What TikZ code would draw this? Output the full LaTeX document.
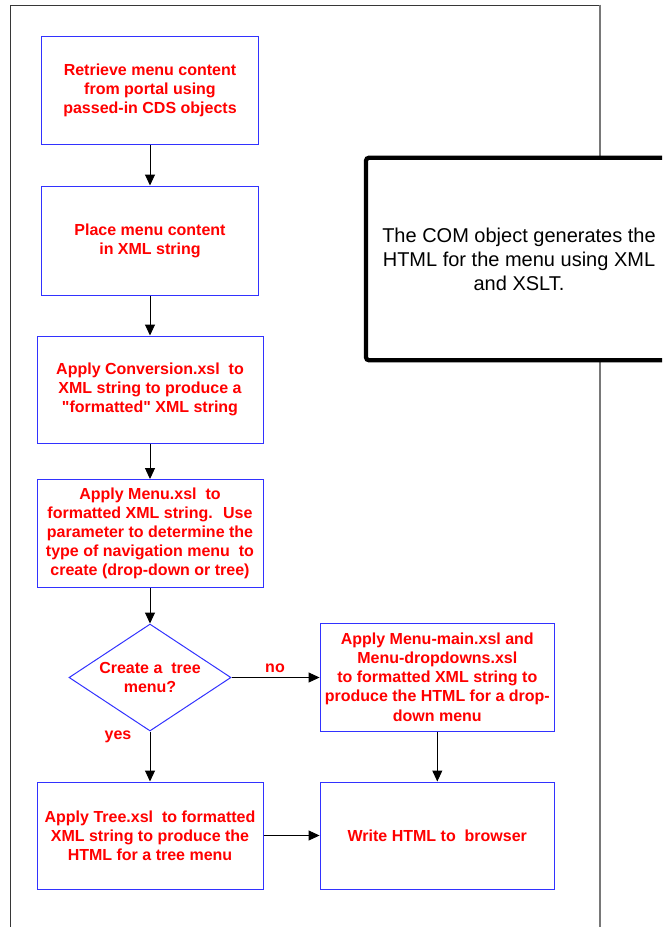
\documentclass[tikz,border=0pt]{standalone}
\usepackage{fontspec}
\setmainfont{Liberation Sans}[Ligatures=TeXOff]
\usetikzlibrary{arrows.meta,shapes.geometric}
\definecolor{boxblue}{RGB}{50,50,255}
\definecolor{txtred}{RGB}{255,0,0}
\definecolor{framedark}{RGB}{55,55,55}
\definecolor{framegray}{RGB}{120,120,120}
\begin{document}
\begin{tikzpicture}[x=1pt,y=-1pt,
  stepbox/.style={draw=boxblue, line width=1pt, rectangle, inner sep=0pt,
    align=center, text=txtred, font=\bfseries\fontsize{16}{19.2}\selectfont},
  decision/.style={draw=boxblue, line width=1pt, diamond, aspect=1.5, inner sep=0pt,
    minimum width=162pt, minimum height=107pt,
    align=center, text=txtred, font=\bfseries\fontsize{16}{19.2}\selectfont},
  lbl/.style={text=txtred, inner sep=0pt, font=\bfseries\fontsize{16}{19.2}\selectfont},
  note/.style={draw=black, line width=4.3pt, rounded corners=3pt, fill=white, inner sep=0pt,
    align=center, font=\fontsize{20}{24}\selectfont},
  arr/.style={draw=black, line width=1pt, -{Triangle[length=11pt,width=10pt]}}]
\useasboundingbox (0,0) rectangle (662,927);
\clip (0,0) rectangle (662,927);
% outer frame (open at the bottom)
\draw[framedark, line width=1.2pt] (10.3,927) -- (10.3,5.3) -- (600,5.3);
\draw[framegray, line width=2pt] (600,4.7) -- (600,927);
% note box
\node[note, minimum width=306pt, minimum height=202.5pt] (com) at (519,259)
  {The COM object generates the\\HTML for the menu using XML\\and XSLT.};
% flow boxes
\node[stepbox, minimum width=217pt, minimum height=108pt] (b1) at (150,90.5)
  {Retrieve menu content\\from portal using\\passed-in CDS objects};
\node[stepbox, minimum width=217pt, minimum height=109pt] (b2) at (150,240.5)
  {Place menu content\\in XML string};
\node[stepbox, minimum width=226pt, minimum height=107pt] (b3) at (150,389.5)
  {Apply Conversion.xsl~ to\\XML string to produce a\\"formatted" XML string};
\node[stepbox, minimum width=226pt, minimum height=107.5pt] (b4) at (150,533.3)
  {Apply Menu.xsl~ to\\formatted XML string.~ Use\\parameter to determine the\\type of navigation menu~ to\\create (drop-down or tree)};
\node[decision] (d) at (150,677.5) {Create a~ tree\\menu?};
\node[stepbox, minimum width=234.5pt, minimum height=108pt] (b5) at (437.3,677)
  {Apply Menu-main.xsl and\\Menu-dropdowns.xsl\\to formatted XML string to\\produce the HTML for a drop-\\down menu};
\node[stepbox, minimum width=226pt, minimum height=107pt] (b6) at (150,835.5)
  {Apply Tree.xsl~ to formatted\\XML string to produce the\\HTML for a tree menu};
\node[stepbox, minimum width=234.5pt, minimum height=107pt] (b7) at (437.3,835.5)
  {Write HTML to~ browser};
% labels
\node[lbl] (no) at (275,668) {no};
\node[lbl] (yes) at (118,737) {yes};
% connectors
\draw[arr] (b1) -- (b2);
\draw[arr] (b2) -- (b3);
\draw[arr] (b3) -- (b4);
\draw[arr] (b4) -- (d);
\draw[arr] (d.east) -- (d.east -| b5.west);
\draw[arr] (d) -- (b6);
\draw[arr] (b5) -- (b7);
\draw[arr] (b6) -- (b7);
\end{tikzpicture}
\end{document}
